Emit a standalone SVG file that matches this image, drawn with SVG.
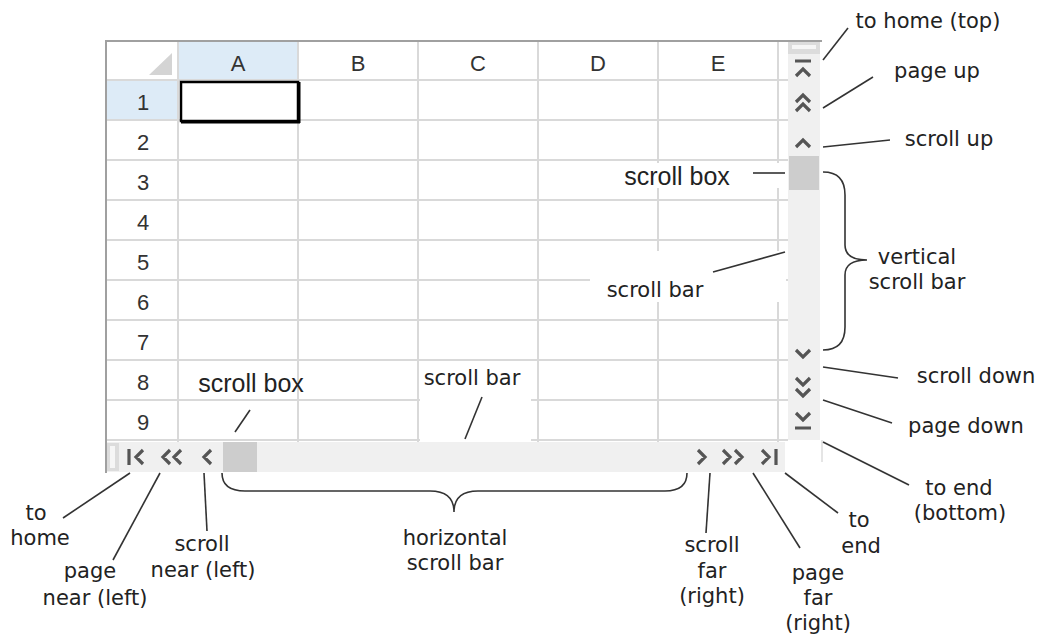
<svg xmlns="http://www.w3.org/2000/svg" width="1037" height="637" viewBox="0 0 1037 637">
<style>
.lbl{font-family:"DejaVu Sans",Verdana,sans-serif;font-size:21px;fill:#222;text-anchor:middle}
.big{font-family:"Liberation Sans",Arial,sans-serif;font-size:25px;fill:#222;text-anchor:middle}
.hdr{font-family:"Liberation Sans",Arial,sans-serif;font-size:22px;fill:#333;text-anchor:middle}
.grid{stroke:#d9d9d9;stroke-width:2;fill:none}
.ico{stroke:#555;stroke-width:3.2;fill:none}
.lead{stroke:#333;stroke-width:1.6;fill:none}
</style>
<rect width="1037" height="637" fill="#fff"/>
<g id="sheet">
  <rect x="178" y="41" width="120" height="39" fill="#ddebf7"/>
  <rect x="107" y="80" width="71" height="40" fill="#ddebf7"/>
  <polygon points="172,53 172,75 149,75" fill="#d4d4d4"/>
  <g class="grid">
    <path d="M178,41V442M298,41V442M418,41V442M538,41V442M658,41V442M778,41V442"/>
    <path d="M107,80H788M107,120H788M107,160H788M107,200H788M107,240H788M107,280H788M107,320H788M107,360H788M107,400H788M107,440H788"/>
  </g>
  <path d="M106,41H822M106,40V473" stroke="#a0a0a0" stroke-width="2" fill="none"/>
  <g class="hdr">
    <text x="238" y="71">A</text><text x="358" y="71">B</text><text x="478" y="71">C</text><text x="598" y="71">D</text><text x="718" y="71">E</text>
    <text x="143" y="110">1</text><text x="143" y="150">2</text><text x="143" y="190">3</text><text x="143" y="230">4</text><text x="143" y="270">5</text><text x="143" y="310">6</text><text x="143" y="350">7</text><text x="143" y="390">8</text><text x="143" y="430">9</text>
  </g>
  <rect x="181" y="82" width="117" height="39" fill="#fff" stroke="#000" stroke-width="2.5"/>
  <path d="M299,82V123M181,122H300" stroke="#000" stroke-width="3"/>
  <rect x="600" y="163" width="186" height="25" fill="#fff"/>
  <rect x="590" y="251" width="196" height="51" fill="#fff"/>
  <rect x="420" y="362" width="111" height="79" fill="#fff"/>
</g>
<g id="vscroll">
  <rect x="788" y="42" width="32" height="398" fill="#f0f0f0"/>
  <rect x="788" y="42" width="32" height="12" fill="#dcdcdc"/>
  <rect x="792" y="45" width="24" height="4" fill="#f6f6f6"/>
  <rect x="789" y="156" width="30" height="34" fill="#cdcdcd"/>
  <path class="ico" d="M795,61H811M796,76L803,69L810,76M796,102L803,95L810,102M796,111L803,104L810,111M796,147L803,140L810,147M796,350L803,357L810,350M796,378L803,385L810,378M796,389L803,396L810,389M796,413L803,420L810,413M795,428H811"/>
  <path d="M822,440V462" stroke="#dcdcdc" stroke-width="1.5"/>
</g>
<g id="hscroll">
  <rect x="107" y="442" width="678" height="30" fill="#f0f0f0"/>
  <rect x="107" y="443" width="12" height="28" fill="#dcdcdc"/>
  <rect x="110" y="446" width="5" height="22" fill="#f6f6f6"/>
  <rect x="223" y="442" width="34" height="30" fill="#cdcdcd"/>
  <path class="ico" d="M129,449V465M143,450L136,457L143,464M170,450L163,457L170,464M181,450L174,457L181,464M211,450L204,457L211,464M698,450L705,457L698,464M723,450L730,457L723,464M735,450L742,457L735,464M762,450L769,457L762,464M776,449V465"/>
</g>
<g id="connectors" class="lead">
  <path d="M823,60L848,28"/>
  <path d="M823,108L873,77"/>
  <path d="M823,147L890,140"/>
  <path d="M753,173H785"/>
  <path d="M713,272L785,252"/>
  <path d="M823,172Q845,172 845,195V245Q845,260 867,260Q845,260 845,275V327Q845,350 823,350"/>
  <path d="M823,367L898,378"/>
  <path d="M823,400L892,423"/>
  <path d="M823,442L909,485"/>
  <path d="M785,473L838,513"/>
  <path d="M753,473L800,548"/>
  <path d="M710,473L706,533"/>
  <path d="M222,473Q222,491 245,491H430Q454,491 454,512Q454,491 478,491H665Q687,491 687,473"/>
  <path d="M465,439L482,397"/>
  <path d="M235,432L250,410"/>
  <path d="M130,473L63,518"/>
  <path d="M160,473L113,560"/>
  <path d="M204,473L207,531"/>
</g>
<g id="labels">
  <text class="lbl" x="928" y="28">to home (top)</text>
  <text class="lbl" x="937" y="78">page up</text>
  <text class="lbl" x="949" y="146">scroll up</text>
  <text class="big" x="677" y="185">scroll box</text>
  <text class="lbl" x="917" y="264">vertical</text>
  <text class="lbl" x="917" y="289">scroll bar</text>
  <text class="lbl" x="655" y="297">scroll bar</text>
  <text class="lbl" x="976" y="383">scroll down</text>
  <text class="lbl" x="966" y="433">page down</text>
  <text class="lbl" x="959" y="495">to end</text>
  <text class="lbl" x="960" y="520">(bottom)</text>
  <text class="lbl" x="859" y="527">to</text>
  <text class="lbl" x="861" y="553">end</text>
  <text class="lbl" x="818" y="580">page</text>
  <text class="lbl" x="818" y="605">far</text>
  <text class="lbl" x="818" y="630">(right)</text>
  <text class="lbl" x="712" y="552">scroll</text>
  <text class="lbl" x="712" y="578">far</text>
  <text class="lbl" x="712" y="603">(right)</text>
  <text class="lbl" x="455" y="545">horizontal</text>
  <text class="lbl" x="455" y="570">scroll bar</text>
  <text class="big" x="251" y="392">scroll box</text>
  <text class="lbl" x="472" y="385">scroll bar</text>
  <text class="lbl" x="36" y="520">to</text>
  <text class="lbl" x="40" y="545">home</text>
  <text class="lbl" x="90" y="578">page</text>
  <text class="lbl" x="95" y="605">near (left)</text>
  <text class="lbl" x="202" y="551">scroll</text>
  <text class="lbl" x="203" y="577">near (left)</text>
</g>
</svg>
